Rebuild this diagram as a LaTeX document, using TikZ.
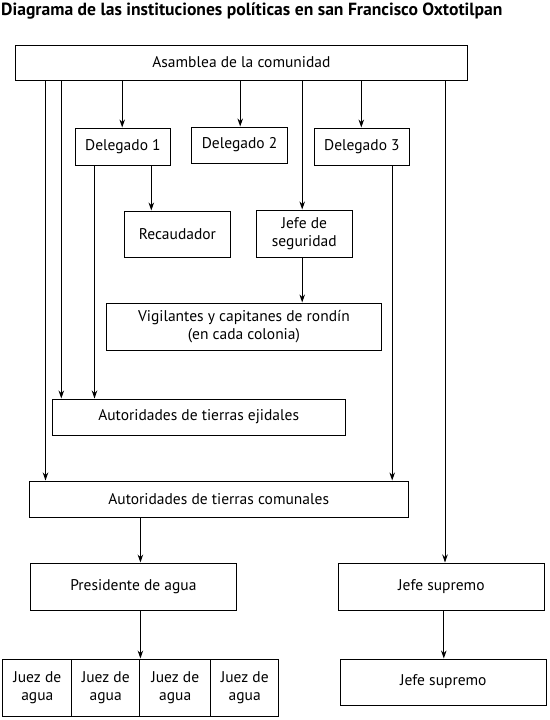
\documentclass[tikz,border=0pt]{standalone}
\usepackage{fontspec}
\setmainfont{PT Sans}
\usetikzlibrary{arrows.meta}
\begin{document}
\begin{tikzpicture}[x=1pt,y=-1pt,
  box/.style={draw, line width=1pt, inner sep=0pt, align=center, font=\fontsize{15.5}{17.5}\selectfont},
  arr/.style={line width=1pt, -{Stealth[length=8pt,width=5.5pt]}}]
\useasboundingbox (0,0) rectangle (549,720);
\node[anchor=base west, inner sep=0pt, font=\fontsize{17.6}{19}\selectfont\bfseries] (title) at (1,16) {Diagrama de las instituciones políticas en san Francisco Oxtotilpan};
% nodes
\node[box, minimum width=452pt, minimum height=35pt] (asam) at (241.4,62.5) {Asamblea de la comunidad};
\node[box, minimum width=95.2pt, minimum height=37pt] (del1) at (122.9,146.5) {Delegado 1};
\node[box, minimum width=96.6pt, minimum height=36pt] (del2) at (239.5,145) {Delegado 2};
\node[box, minimum width=94.9pt, minimum height=37pt] (del3) at (361.9,146.5) {Delegado 3};
\node[box, minimum width=106.1pt, minimum height=46pt] (recaud) at (177.4,234) {Recaudador};
\node[box, minimum width=95.9pt, minimum height=47pt] (jseg) at (304.3,233.5) {Jefe de\\seguridad};
\node[box, minimum width=274.9pt, minimum height=47pt] (vigil) at (243.9,326.5) {Vigilantes y capitanes de rondín\\(en cada colonia)};
\node[box, minimum width=293pt, minimum height=36pt] (ejid) at (198.7,417) {Autoridades de tierras ejidales};
\node[box, minimum width=379.2pt, minimum height=36pt] (comun) at (218.7,499) {Autoridades de tierras comunales};
\node[box, minimum width=205.8pt, minimum height=47pt] (pres) at (133.4,586.5) {Presidente de agua};
\node[box, minimum width=206.3pt, minimum height=47pt] (jefe1) at (441.4,586.5) {Jefe supremo};
\node[box, minimum width=205.9pt, minimum height=46pt] (jefe2) at (443.3,682) {Jefe supremo};
\node[box, minimum width=69pt, minimum height=57pt] (juez1) at (37.3,687.5) {Juez de\\agua};
\node[box, minimum width=67.9pt, minimum height=57pt] (juez2) at (105.75,687.5) {Juez de\\agua};
\node[box, minimum width=71.1pt, minimum height=57pt] (juez3) at (175.25,687.5) {Juez de\\agua};
\node[box, minimum width=67.9pt, minimum height=57pt] (juez4) at (244.75,687.5) {Juez de\\agua};
% column coordinates
\coordinate (xa) at (45.5,0);
\coordinate (xb) at (61.3,0);
\coordinate (xc) at (94.5,0);
\coordinate (xd) at (122.2,0);
\coordinate (xe) at (140.4,0);
\coordinate (xf) at (151.3,0);
\coordinate (xg) at (240.2,0);
\coordinate (xh) at (302.2,0);
\coordinate (xi) at (361.3,0);
\coordinate (xj) at (392.2,0);
\coordinate (xk) at (445,0);
\coordinate (xl) at (443.8,0);
% connectors
\draw[arr] (asam.south -| xa) -- (comun.north -| xa);
\draw[arr] (asam.south -| xb) -- (ejid.north -| xb);
\draw[arr] (asam.south -| xd) -- (del1.north -| xd);
\draw[arr] (asam.south -| xg) -- (del2.north -| xg);
\draw[arr] (asam.south -| xh) -- (jseg.north -| xh);
\draw[arr] (asam.south -| xi) -- (del3.north -| xi);
\draw[arr] (asam.south -| xk) -- (jefe1.north -| xk);
\draw[arr] (del1.south -| xc) -- (ejid.north -| xc);
\draw[arr] (del1.south -| xf) -- (recaud.north -| xf);
\draw[arr] (del3.south -| xj) -- (comun.north -| xj);
\draw[arr] (jseg.south -| xh) -- (vigil.north -| xh);
\draw[arr] (comun.south -| xe) -- (pres.north -| xe);
\draw[arr] (pres.south -| xe) -- (juez3.north -| xe);
\draw[arr] (jefe1.south -| xl) -- (jefe2.north -| xl);
\end{tikzpicture}
\end{document}
